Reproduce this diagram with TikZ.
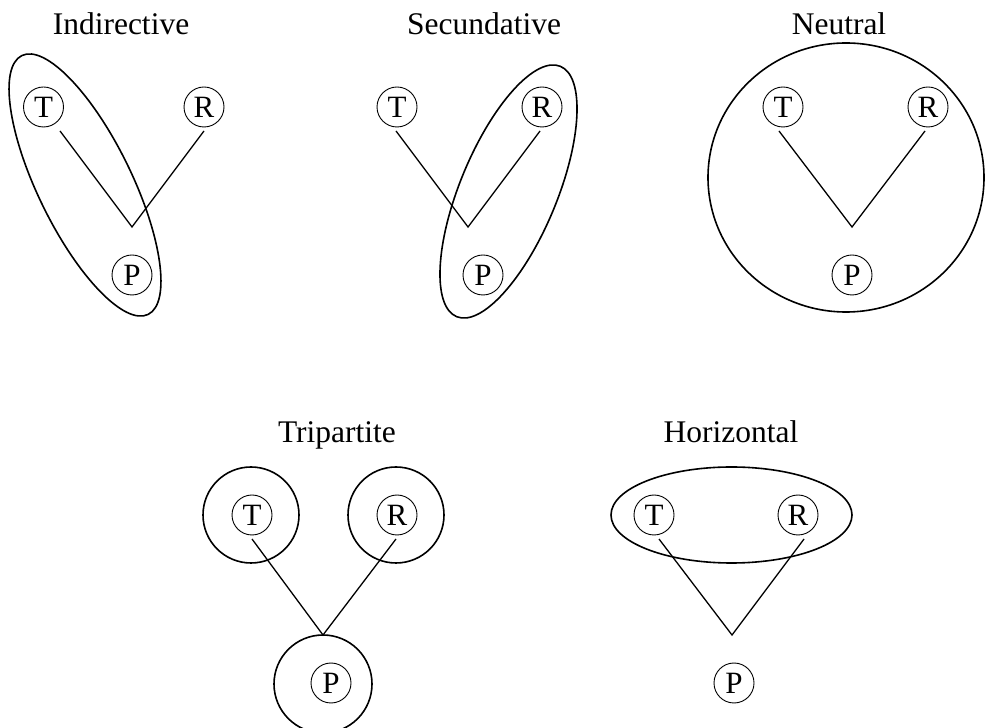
\documentclass[tikz,border=0pt]{standalone}
\usepackage{fontspec}
\setmainfont{Liberation Serif}
\begin{document}
\begin{tikzpicture}[x=1pt,y=1pt,
  lbl/.style={circle,draw,line width=0.9pt,minimum size=40pt,inner sep=0pt,font=\fontsize{31}{33}\selectfont},
  ttl/.style={anchor=base,inner sep=0pt,font=\fontsize{31.5}{34}\selectfont},
  conn/.style={line width=1.3pt},
  grp/.style={line width=1.6pt}]
\useasboundingbox (0,0) rectangle (985,728);
% Titles
\node[ttl] (t1) at (121,693) {Indirective};
\node[ttl] (t2) at (484,693) {Secundative};
\node[ttl] (t3) at (839,693) {Neutral};
\node[ttl] (t4) at (337,285) {Tripartite};
\node[ttl] (t5) at (731,285) {Horizontal};
% Panel 1: Indirective
\node[lbl] (T1) at (43.5,621) {T};
\node[lbl] (R1) at (204,621) {R};
\node[lbl] (P1) at (132,453) {P};
\coordinate (v1) at (132,501);
\draw[conn] ([shift={(16.5,-24)}]T1.center) -- (v1) -- ([shift={(0,-24)}]R1.center);
\draw[grp,rotate around={116:(85,543)}] (85,543) ellipse [x radius=144, y radius=47];
% Panel 2: Secundative
\node[lbl] (T2) at (397,621) {T};
\node[lbl] (R2) at (542,621) {R};
\node[lbl] (P2) at (483,453) {P};
\coordinate (v2) at (468,501);
\draw[conn] ([shift={(-1,-24)}]T2.center) -- (v2) -- ([shift={(-2,-24)}]R2.center);
\draw[grp,rotate around={67.5:(508.5,536.5)}] (508.5,536.5) ellipse [x radius=135.5, y radius=48.5];
% Panel 3: Neutral
\node[lbl] (T3) at (783,621) {T};
\node[lbl] (R3) at (928,621) {R};
\node[lbl] (P3) at (852,453) {P};
\coordinate (v3) at (852,501);
\draw[conn] ([shift={(-4,-24)}]T3.center) -- (v3) -- ([shift={(-3,-24)}]R3.center);
\draw[grp] (846,550.5) ellipse [x radius=138, y radius=134.5];
% Panel 4: Tripartite
\node[lbl] (T4) at (252,213) {T};
\node[lbl] (R4) at (397,213) {R};
\node[lbl] (P4) at (331,45) {P};
\coordinate (v4) at (323,93);
\draw[conn] ([shift={(0,-24)}]T4.center) -- (v4) -- ([shift={(-1,-24)}]R4.center);
\draw[grp] (251,213) circle [radius=48];
\draw[grp] (396,213) circle [radius=48];
\draw[grp] (323,44) circle [radius=49];
% Panel 5: Horizontal
\node[lbl] (T5) at (654,213) {T};
\node[lbl] (R5) at (798,213) {R};
\node[lbl] (P5) at (734,45) {P};
\coordinate (v5) at (732,93);
\draw[conn] ([shift={(5,-24)}]T5.center) -- (v5) -- ([shift={(6,-24)}]R5.center);
\draw[grp] (731.5,213) ellipse [x radius=120.5, y radius=48];
\end{tikzpicture}
\end{document}
